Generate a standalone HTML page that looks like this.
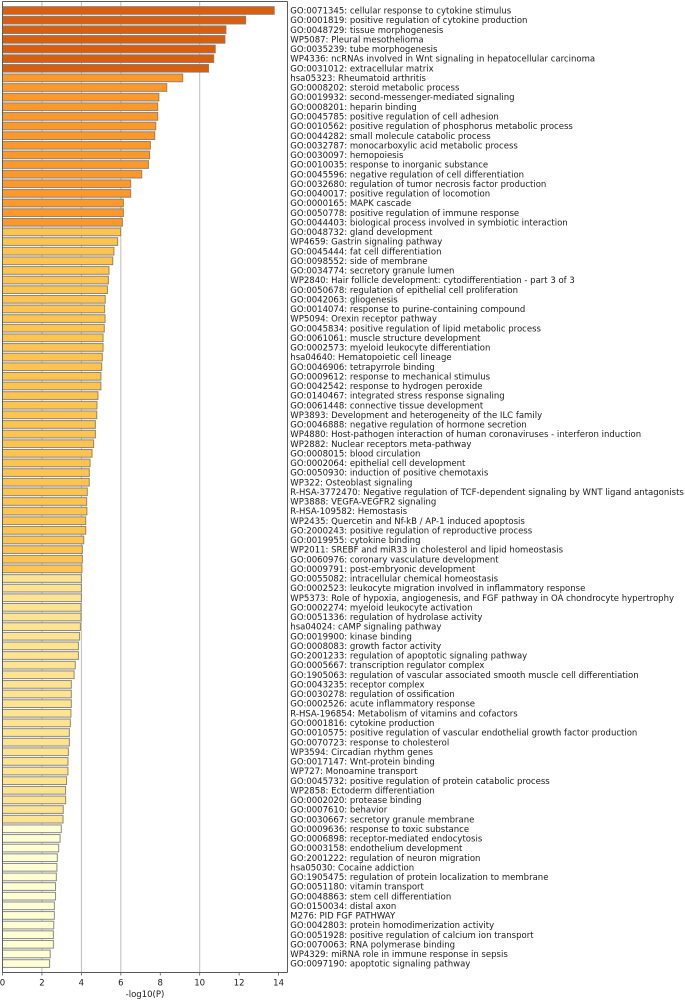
<!DOCTYPE html>
<html lang="en">
<head>
<meta charset="utf-8">
<title>Enrichment bar chart</title>
<style>
html,body{margin:0;padding:0;background:#fff;width:685px;height:1000px;overflow:hidden}
svg{display:block;font-family:"DejaVu Sans","Liberation Sans",sans-serif;filter:blur(0.3px)}
</style>
</head>
<body>
<svg id="chart" xmlns="http://www.w3.org/2000/svg" width="685" height="1000" viewBox="0 0 685 1000"></svg>
<script>
const categories = [
"GO:0071345: cellular response to cytokine stimulus",
"GO:0001819: positive regulation of cytokine production",
"GO:0048729: tissue morphogenesis",
"WP5087: Pleural mesothelioma",
"GO:0035239: tube morphogenesis",
"WP4336: ncRNAs involved in Wnt signaling in hepatocellular carcinoma",
"GO:0031012: extracellular matrix",
"hsa05323: Rheumatoid arthritis",
"GO:0008202: steroid metabolic process",
"GO:0019932: second-messenger-mediated signaling",
"GO:0008201: heparin binding",
"GO:0045785: positive regulation of cell adhesion",
"GO:0010562: positive regulation of phosphorus metabolic process",
"GO:0044282: small molecule catabolic process",
"GO:0032787: monocarboxylic acid metabolic process",
"GO:0030097: hemopoiesis",
"GO:0010035: response to inorganic substance",
"GO:0045596: negative regulation of cell differentiation",
"GO:0032680: regulation of tumor necrosis factor production",
"GO:0040017: positive regulation of locomotion",
"GO:0000165: MAPK cascade",
"GO:0050778: positive regulation of immune response",
"GO:0044403: biological process involved in symbiotic interaction",
"GO:0048732: gland development",
"WP4659: Gastrin signaling pathway",
"GO:0045444: fat cell differentiation",
"GO:0098552: side of membrane",
"GO:0034774: secretory granule lumen",
"WP2840: Hair follicle development: cytodifferentiation - part 3 of 3",
"GO:0050678: regulation of epithelial cell proliferation",
"GO:0042063: gliogenesis",
"GO:0014074: response to purine-containing compound",
"WP5094: Orexin receptor pathway",
"GO:0045834: positive regulation of lipid metabolic process",
"GO:0061061: muscle structure development",
"GO:0002573: myeloid leukocyte differentiation",
"hsa04640: Hematopoietic cell lineage",
"GO:0046906: tetrapyrrole binding",
"GO:0009612: response to mechanical stimulus",
"GO:0042542: response to hydrogen peroxide",
"GO:0140467: integrated stress response signaling",
"GO:0061448: connective tissue development",
"WP3893: Development and heterogeneity of the ILC family",
"GO:0046888: negative regulation of hormone secretion",
"WP4880: Host-pathogen interaction of human coronaviruses - interferon induction",
"WP2882: Nuclear receptors meta-pathway",
"GO:0008015: blood circulation",
"GO:0002064: epithelial cell development",
"GO:0050930: induction of positive chemotaxis",
"WP322: Osteoblast signaling",
"R-HSA-3772470: Negative regulation of TCF-dependent signaling by WNT ligand antagonists",
"WP3888: VEGFA-VEGFR2 signaling",
"R-HSA-109582: Hemostasis",
"WP2435: Quercetin and Nf-kB / AP-1 induced apoptosis",
"GO:2000243: positive regulation of reproductive process",
"GO:0019955: cytokine binding",
"WP2011: SREBF and miR33 in cholesterol and lipid homeostasis",
"GO:0060976: coronary vasculature development",
"GO:0009791: post-embryonic development",
"GO:0055082: intracellular chemical homeostasis",
"GO:0002523: leukocyte migration involved in inflammatory response",
"WP5373: Role of hypoxia, angiogenesis, and FGF pathway in OA chondrocyte hypertrophy",
"GO:0002274: myeloid leukocyte activation",
"GO:0051336: regulation of hydrolase activity",
"hsa04024: cAMP signaling pathway",
"GO:0019900: kinase binding",
"GO:0008083: growth factor activity",
"GO:2001233: regulation of apoptotic signaling pathway",
"GO:0005667: transcription regulator complex",
"GO:1905063: regulation of vascular associated smooth muscle cell differentiation",
"GO:0043235: receptor complex",
"GO:0030278: regulation of ossification",
"GO:0002526: acute inflammatory response",
"R-HSA-196854: Metabolism of vitamins and cofactors",
"GO:0001816: cytokine production",
"GO:0010575: positive regulation of vascular endothelial growth factor production",
"GO:0070723: response to cholesterol",
"WP3594: Circadian rhythm genes",
"GO:0017147: Wnt-protein binding",
"WP727: Monoamine transport",
"GO:0045732: positive regulation of protein catabolic process",
"WP2858: Ectoderm differentiation",
"GO:0002020: protease binding",
"GO:0007610: behavior",
"GO:0030667: secretory granule membrane",
"GO:0009636: response to toxic substance",
"GO:0006898: receptor-mediated endocytosis",
"GO:0003158: endothelium development",
"GO:2001222: regulation of neuron migration",
"hsa05030: Cocaine addiction",
"GO:1905475: regulation of protein localization to membrane",
"GO:0051180: vitamin transport",
"GO:0048863: stem cell differentiation",
"GO:0150034: distal axon",
"M276: PID FGF PATHWAY",
"GO:0042803: protein homodimerization activity",
"GO:0051928: positive regulation of calcium ion transport",
"GO:0070063: RNA polymerase binding",
"WP4329: miRNA role in immune response in sepsis",
"GO:0097190: apoptotic signaling pathway"
];
const values = [
13.78,12.33,11.33,11.28,10.79,10.71,10.45,9.14,8.33,7.93,
7.87,7.87,7.77,7.72,7.50,7.46,7.40,7.06,6.50,6.50,
6.13,6.13,6.08,5.99,5.84,5.65,5.59,5.40,5.37,5.32,
5.21,5.18,5.20,5.16,5.10,5.10,5.06,5.03,4.99,4.99,
4.84,4.79,4.78,4.71,4.71,4.62,4.54,4.44,4.40,4.40,
4.30,4.27,4.28,4.22,4.22,4.12,4.05,4.05,4.03,4.00,
4.00,4.00,3.98,3.98,3.95,3.91,3.85,3.85,3.69,3.63,
3.49,3.49,3.49,3.47,3.44,3.39,3.39,3.34,3.32,3.32,
3.25,3.20,3.20,3.08,3.07,2.98,2.92,2.85,2.78,2.76,
2.73,2.69,2.69,2.63,2.63,2.60,2.58,2.58,2.42,2.39
];
const groupCounts = [7,16,36,26,15];
const groupColors = ["#d95f0e","#fe9929","#fec44f","#fee391","#ffffd4"];
const xTickLabels = [0,2,4,6,8,10,12,14];
const gridValues = [2,4,6,10];

const svg = document.getElementById('chart');
const NS = 'http://www.w3.org/2000/svg';
const plot = {left:2.5,right:287.5,top:1.5,bottom:972.5};
const X_MAX = (plot.right-plot.left)/19.72;
const xScale = v => plot.left + (v/X_MAX)*(plot.right-plot.left);
const yScale = i => 10.5 + i*9.627;
const BAR_H = 7.7;
const FONT_SIZE = 8.52;

function make(tag, attrs, parent){
  const el = document.createElementNS(NS, tag);
  for(const k in attrs) el.setAttribute(k, attrs[k]);
  (parent||svg).appendChild(el);
  return el;
}
function colorFor(i){
  let acc = 0;
  for(let g=0;g<groupCounts.length;g++){
    acc += groupCounts[g];
    if(i < acc) return groupColors[g];
  }
  return groupColors[groupColors.length-1];
}

/* gridlines */
gridValues.forEach(v=>{
  const g = make('line',{x1:xScale(v),x2:xScale(v),y1:plot.top,y2:plot.bottom,stroke:'#bdbdbd','stroke-width':1});
  
  
});

/* bars */
values.forEach((v,i)=>{
  const r = make('rect',{x:plot.left,y:yScale(i)-BAR_H/2,width:Math.max(0,xScale(v)-plot.left),height:BAR_H,fill:colorFor(i),stroke:'#7d7d7d','stroke-opacity':0.9,'stroke-width':1});
  
  
});

/* category labels */
categories.forEach((c,i)=>{
  const t = make('text',{x:290.3,y:yScale(i)+3.1,'font-size':FONT_SIZE,fill:'#1a1a1a'});
  t.textContent = c;
  
  
});

/* spines */
const spines = [
 ['left',plot.left,plot.top,plot.left,plot.bottom],
 ['right',plot.right,plot.top,plot.right,plot.bottom],
 ['top',plot.left,plot.top,plot.right,plot.top],
 ['bottom',plot.left,plot.bottom,plot.right,plot.bottom]
];
spines.forEach(s=>{
  const l = make('line',{x1:s[1],y1:s[2],x2:s[3],y2:s[4],stroke:'#5a5a5a','stroke-width':1});
  
  
});

/* x ticks */
xTickLabels.forEach(v=>{
  const m = make('line',{x1:xScale(v),x2:xScale(v),y1:plot.bottom,y2:plot.bottom+3,stroke:'#5a5a5a','stroke-width':0.8});
  
  
  const t = make('text',{x:xScale(v),y:985.5,'text-anchor':'middle','font-size':FONT_SIZE,fill:'#1a1a1a'});
  t.textContent = v;
  
  
});

const title = make('text',{x:145,y:997,'text-anchor':'middle','font-size':FONT_SIZE,fill:'#1a1a1a'});
title.textContent = '-log10(P)';


</script>
</body>
</html>
